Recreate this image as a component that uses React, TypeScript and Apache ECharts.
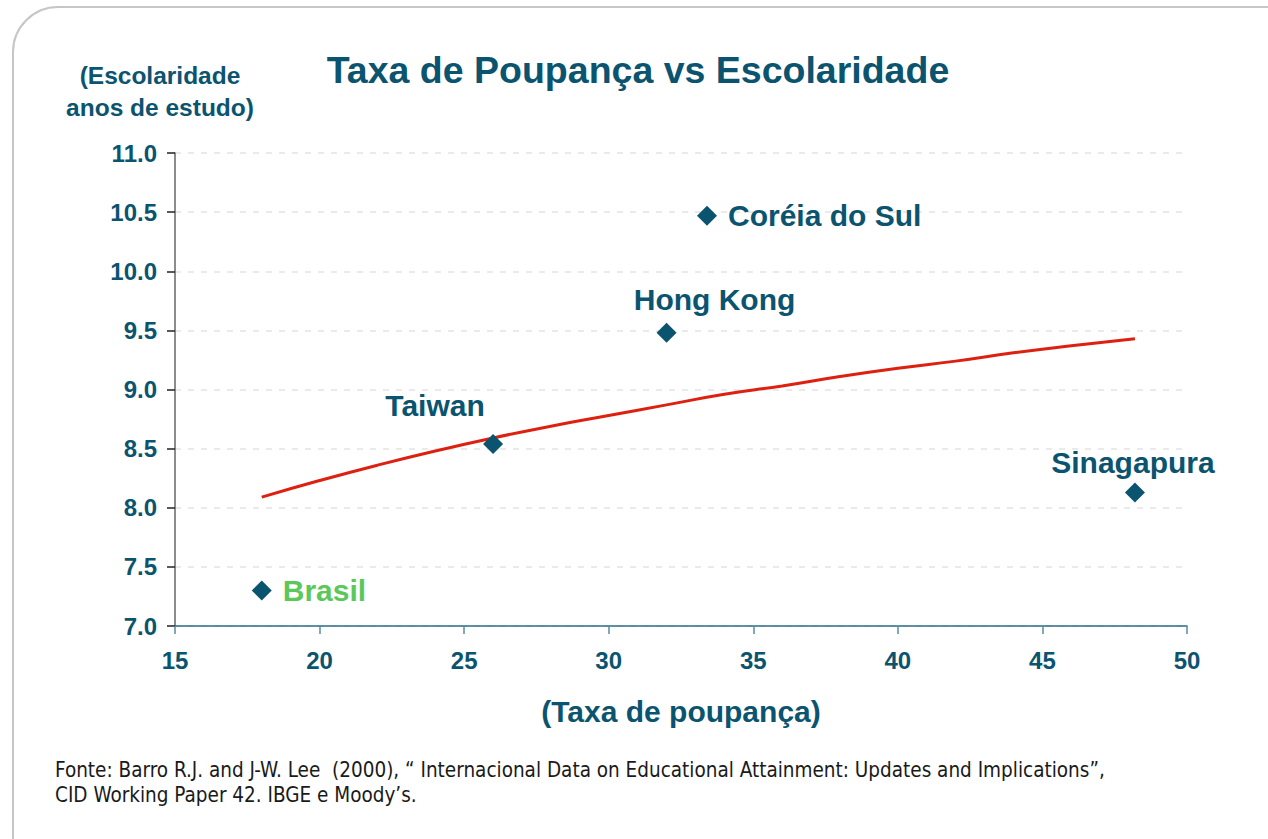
import React, { useEffect, useRef } from "react";
import * as echarts from "echarts";

const countries = ["Brasil", "Taiwan", "Hong Kong", "Coréia do Sul", "Sinagapura"];
const savingsRate = [18.0, 26.0, 32.0, 33.4, 48.2];
const schooling = [7.3, 8.54, 9.48, 10.47, 8.13];

const trendX = [18, 20, 22, 24, 26, 28, 30, 32, 34, 36, 38, 40, 42, 44, 46, 48.2];
const trendY = [8.09, 8.23, 8.36, 8.48, 8.59, 8.69, 8.78, 8.87, 8.96, 9.03, 9.11, 9.18, 9.24, 9.31, 9.37, 9.43];

const xTicks = [15, 20, 25, 30, 35, 40, 45, 50];
const yTicks = [7.0, 7.5, 8.0, 8.5, 9.0, 9.5, 10.0, 10.5, 11.0];

const TEAL = "#0b5470";
const GREEN = "#5cc85c";
const FONT = "'Liberation Sans', Arial, sans-serif";

const labelCfg: Record<string, any> = {
  Brasil: { position: "right", distance: 11, color: GREEN },
  Taiwan: { position: "top", distance: 5, offset: [-58, -8] },
  "Hong Kong": { position: "top", distance: 7, offset: [48, -1] },
  "Coréia do Sul": { position: "right", distance: 11 },
  Sinagapura: { position: "top", distance: 5, offset: [-2, 0] },
};

export default function App() {
  const ref = useRef<HTMLDivElement>(null);
  useEffect(() => {
    if (!ref.current) return;
    const chart = echarts.init(ref.current, null, { renderer: "svg" });
    const scatterData = countries.map((c, i) => ({
      name: c,
      value: [savingsRate[i], schooling[i]],
      label: {
        show: true,
        formatter: c,
        fontFamily: FONT,
        fontWeight: "bold",
        fontSize: 30,
        color: TEAL,
        ...labelCfg[c],
      },
    }));
    chart.setOption({
      animation: false,
      backgroundColor: "#ffffff",
      title: {
        text: "Taxa de Poupança vs Escolaridade",
        left: 638,
        textAlign: "center",
        top: 51,
        padding: 0,
        textStyle: { fontFamily: FONT, fontWeight: "bold", fontSize: 37.5, color: TEAL },
      },
      grid: { left: 175, right: 81, top: 153, bottom: 213 },
      xAxis: {
        type: "value",
        min: xTicks[0],
        max: xTicks[xTicks.length - 1],
        interval: 5,
        name: "(Taxa de poupança)",
        nameLocation: "middle",
        nameGap: 70,
        nameTextStyle: { fontFamily: FONT, fontWeight: "bold", fontSize: 30, color: TEAL },
        axisLine: { show: true, lineStyle: { color: "#2a6b84", width: 1.5 } },
        axisTick: { show: true, length: 8, lineStyle: { color: "#5a8ca0", width: 1.5 } },
        axisLabel: { margin: 22, fontFamily: FONT, fontWeight: "bold", fontSize: 24, color: TEAL },
        splitLine: { show: false },
      },
      yAxis: {
        type: "value",
        min: yTicks[0],
        max: yTicks[yTicks.length - 1],
        interval: 0.5,
        axisLine: { show: true, lineStyle: { color: "#666666", width: 1.5 } },
        axisTick: { show: true, length: 8, lineStyle: { color: "#222222", width: 1.5 } },
        axisLabel: {
          margin: 18,
          fontFamily: FONT,
          fontWeight: "bold",
          fontSize: 24,
          color: TEAL,
          formatter: (v: number) => v.toFixed(1),
        },
        splitLine: { show: true, lineStyle: { color: "#e3e3e3", type: [6, 7], width: 1.5 } },
      },
      graphic: [
        {
          type: "rect",
          z: -10,
          shape: { x: 13, y: 7, width: 1300, height: 880, r: 45 },
          style: { fill: "none", stroke: "#c6c6c6", lineWidth: 2 },
        },
        {
          type: "text",
          x: 160,
          y: 59,
          style: {
            text: "(Escolaridade\nanos de estudo)",
            textAlign: "center",
            fontFamily: FONT,
            fontWeight: "bold",
            fontSize: 24.5,
            lineHeight: 32,
            fill: TEAL,
          },
        },
        {
          type: "text",
          x: 55,
          y: 757,
          style: {
            text:
              "Fonte: Barro R.J. and J-W. Lee  (2000), “ Internacional Data on Educational Attainment: Updates and Implications”,\nCID Working Paper 42. IBGE e Moody’s.",
            fontFamily: "'DejaVu Sans Condensed', sans-serif",
            fontSize: 20.5,
            lineHeight: 25,
            fill: "#1a1a1a",
          },
        },
      ],
      series: [
        {
          type: "line",
          data: trendX.map((x, i) => [x, trendY[i]]),
          showSymbol: false,
          smooth: true,
          lineStyle: { color: "#dd2010", width: 3 },
          z: 2,
        },
        {
          type: "scatter",
          symbol: "diamond",
          symbolSize: 20,
          itemStyle: { color: TEAL, opacity: 1 },
          data: scatterData,
          z: 3,
        },
      ],
    });
    return () => chart.dispose();
  }, []);
  return (
    <div
      ref={ref}
      style={{ position: "fixed", left: 0, top: 0, width: 1268, height: 839 }}
    />
  );
}
